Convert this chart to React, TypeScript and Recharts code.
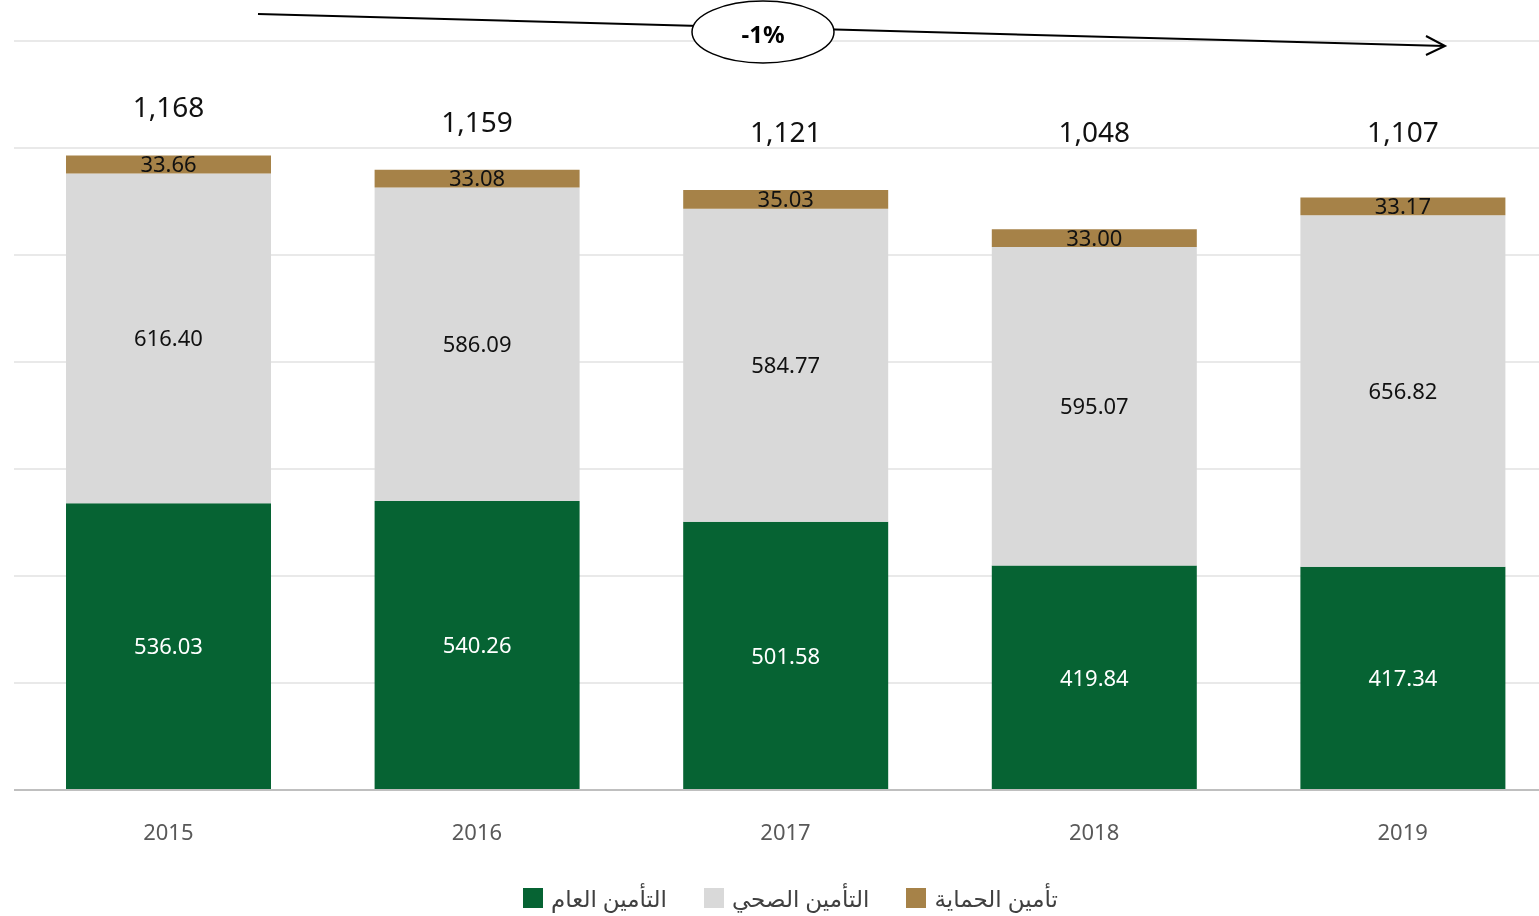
import { BarChart, Bar, XAxis, YAxis, CartesianGrid, Legend, LabelList, Customized } from 'recharts'

const years = ['2015', '2016', '2017', '2018', '2019']
const generalIns = [536.03, 540.26, 501.58, 419.84, 417.34]
const healthIns = [616.4, 586.09, 584.77, 595.07, 656.82]
const protectionIns = [33.66, 33.08, 35.03, 33.0, 33.17]
const totals = [1168, 1159, 1121, 1048, 1107]
const yTicks = [0, 200, 400, 600, 800, 1000, 1200, 1400]
const seriesNames = ['التأمين العام', 'التأمين الصحي', 'تأمين الحماية']

const data = years.map((year, i) => ({
  year,
  general: generalIns[i],
  health: healthIns[i],
  protection: protectionIns[i],
  total: totals[i],
}))

const FONT = '"Noto Sans", "DejaVu Sans", sans-serif'

const TotalLabel = (props: any) => {
  const { x, y, width, index } = props
  const ty = Math.min(y - 49, 131)
  return (
    <text
      x={x + width / 2}
      y={ty}
      textAnchor='middle'
      dominantBaseline='central'
      fontSize={28}
      fontFamily={FONT}
      fill='#111'
    >
      {totals[index].toLocaleString('en-US')}
    </text>
  )
}

const TrendArrow = () => (
  <g>
    <line x1={258} y1={14} x2={1445} y2={46} stroke='#000' strokeWidth={2} />
    <polyline points='1426,36 1445,46 1426,55' fill='none' stroke='#000' strokeWidth={2} />
    <ellipse cx={763} cy={32} rx={71} ry={31} fill='#fff' stroke='#000' strokeWidth={1.5} />
    <text
      x={763}
      y={33}
      textAnchor='middle'
      dominantBaseline='central'
      fontSize={24}
      fontWeight='bold'
      fontFamily={FONT}
      fill='#000'
    >
      -1%
    </text>
  </g>
)

const LegendContent = (props: any) => {
  const { payload } = props
  const items = seriesNames
    .map((name) => payload.find((p: any) => p.value === name))
    .filter(Boolean)
  return (
    <div
      style={{
        display: 'flex',
        justifyContent: 'center',
        alignItems: 'center',
        height: 36,
        gap: 37,
        paddingLeft: 10,
      }}
    >
      {items.map((entry: any) => (
        <div key={entry.value} style={{ display: 'flex', alignItems: 'center', gap: 8 }}>
          <span style={{ width: 20, height: 20, background: entry.color, display: 'inline-block' }} />
          <span style={{ fontSize: 23, lineHeight: '28px', fontFamily: FONT, color: '#404040' }}>
            {entry.value}
          </span>
        </div>
      ))}
    </div>
  )
}

export default function App() {
  return (
    <div style={{ position: 'fixed', top: 0, left: 0, width: 1539, height: 916, overflow: 'hidden' }}>
      <BarChart
        width={1557}
        height={916}
        data={data}
        margin={{ top: 41, right: 0, left: 14, bottom: 0 }}
        barSize={205}
      >
        <CartesianGrid vertical={false} stroke='#e9e9e9' strokeWidth={2} />
        <XAxis
          dataKey='year'
          height={90}
          tickLine={false}
          axisLine={{ stroke: '#bfbfbf', strokeWidth: 2 }}
          tickMargin={28}
          tick={{ fontSize: 22, fill: '#595959', fontFamily: FONT }}
        />
        <YAxis hide domain={[0, 1400]} ticks={yTicks} />
        <Legend verticalAlign='bottom' height={36} content={<LegendContent />} />
        <Bar dataKey='general' name={seriesNames[0]} stackId='a' fill='#066333' isAnimationActive={false}>
          <LabelList
            dataKey='general'
            position='center'
            formatter={(v: any) => Number(v).toFixed(2)}
            fill='#fff'
            fontSize={22}
            fontFamily={FONT}
          />
        </Bar>
        <Bar dataKey='health' name={seriesNames[1]} stackId='a' fill='#d9d9d9' isAnimationActive={false}>
          <LabelList
            dataKey='health'
            position='center'
            formatter={(v: any) => Number(v).toFixed(2)}
            fill='#111'
            fontSize={22}
            fontFamily={FONT}
          />
        </Bar>
        <Bar dataKey='protection' name={seriesNames[2]} stackId='a' fill='#a68248' isAnimationActive={false}>
          <LabelList
            dataKey='protection'
            position='center'
            formatter={(v: any) => Number(v).toFixed(2)}
            fill='#111'
            fontSize={22}
            fontFamily={FONT}
          />
          <LabelList dataKey='total' content={<TotalLabel />} />
        </Bar>
        <Customized component={<TrendArrow />} />
      </BarChart>
    </div>
  )
}
